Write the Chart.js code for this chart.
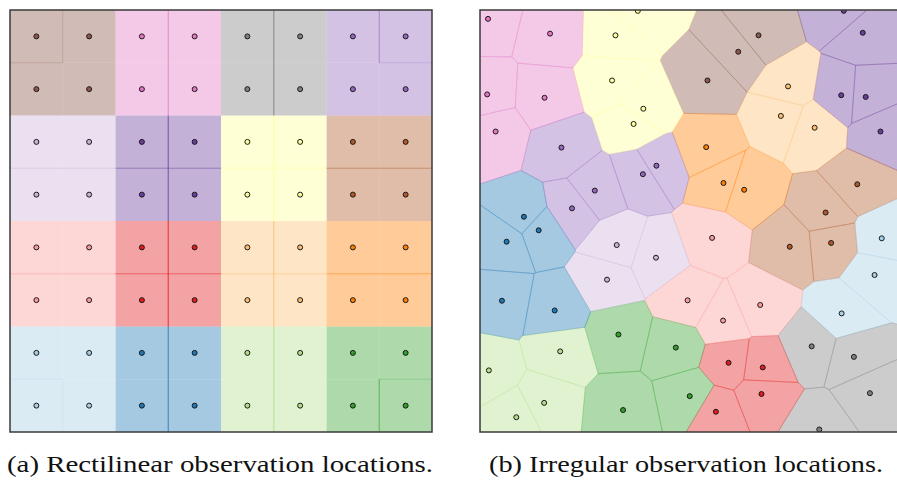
<!DOCTYPE html>
<html>
<head>
<meta charset="utf-8">
<script src="https://cdn.jsdelivr.net/npm/chart.js@4.4.1/dist/chart.umd.min.js"></script>
<style>
html, body { margin: 0; padding: 0; background: #fff; width: 897px; height: 480px; overflow: hidden; }
canvas { position: absolute; top: 5px; }
#left { left: 5px; }
#right { left: 475px; }
.cap { position: absolute; top: 452px; font-family: "Liberation Serif", "Times New Roman", serif; font-size: 24px; line-height: 24px; color: #111; white-space: nowrap; transform-origin: 0 0; }
</style>
</head>
<body>
<canvas id="left" width="432" height="432"></canvas>
<canvas id="right" width="432" height="432"></canvas>
<div class="cap" id="capA">(a) Rectilinear observation locations.</div>
<div class="cap" id="capB">(b) Irregular observation locations.</div>
<script>
// colour of each observation group
const groupColors = {
  brown: "#8c564b", pink: "#e377c2", gray: "#7f7f7f", purple: "#9467bd",
  lavender: "#cab2d6", violet: "#6a3d9a", yellow: "#ffff99", rust: "#b15928",
  salmon: "#fb9a99", red: "#e31a1c", peach: "#fdbf6f", orange: "#ff7f00",
  skyblue: "#a6cee3", blue: "#1f78b4", lime: "#b2df8a", green: "#33a02c"
};

// (a) rectilinear grid: cell centres and the 2x2 blocks (top row first)
const gridPos = [0.0625, 0.1875, 0.3125, 0.4375, 0.5625, 0.6875, 0.8125, 0.9375];
const blockGroups = [
  ["brown", "pink", "gray", "purple"],
  ["lavender", "violet", "yellow", "rust"],
  ["salmon", "red", "peach", "orange"],
  ["skyblue", "blue", "lime", "green"]
];
// internal cell borders that show up in (a)
const gridLines = [0.375, 0.625];

// (b) irregular locations
const irregX = [
  0.019, 0.166, 0.017, 0.153, 0.037,
  0.374, 0.321, 0.313, 0.387, 0.364,
  0.193, 0.418, 0.386, 0.272, 0.218,
  0.104, 0.139, 0.063, 0.052, 0.177,
  0.324, 0.417, 0.301,
  0.328, 0.464, 0.339, 0.497,
  0.190, 0.021, 0.152, 0.086,
  0.550, 0.492, 0.664, 0.576,
  0.589, 0.670, 0.667, 0.559,
  0.786, 0.886, 0.924, 0.804,
  0.952, 0.935, 0.857,
  0.894, 0.819, 0.734, 0.832,
  0.730, 0.713, 0.793,
  0.536, 0.577, 0.626,
  0.660, 0.612, 0.539,
  0.862, 0.907, 0.856, 0.914, 0.949
];
const irregY = [
  0.979, 0.944, 0.800, 0.792, 0.712,
  0.998, 0.940, 0.833, 0.766, 0.730,
  0.674, 0.631, 0.611, 0.572, 0.530,
  0.510, 0.478, 0.451, 0.311, 0.288,
  0.443, 0.413, 0.361,
  0.231, 0.200, 0.052, 0.085,
  0.191, 0.146, 0.069, 0.035,
  0.460, 0.312, 0.301, 0.264,
  0.164, 0.153, 0.090, 0.048,
  0.203, 0.178, 0.092, 0.006,
  0.459, 0.372, 0.281,
  0.587, 0.520, 0.439, 0.448,
  0.819, 0.749, 0.721,
  0.675, 0.590, 0.574,
  0.940, 0.901, 0.833,
  0.998, 0.946, 0.798, 0.794, 0.712
];
const irregGroup = [
  "pink", "pink", "pink", "pink", "pink",
  "yellow", "yellow", "yellow", "yellow", "yellow",
  "purple", "purple", "purple", "purple", "purple",
  "blue", "blue", "blue", "blue", "blue",
  "lavender", "lavender", "lavender",
  "green", "green", "green", "green",
  "lime", "lime", "lime", "lime",
  "salmon", "salmon", "salmon", "salmon",
  "red", "red", "red", "red",
  "gray", "gray", "gray", "gray",
  "skyblue", "skyblue", "skyblue",
  "rust", "rust", "rust", "rust",
  "peach", "peach", "peach",
  "orange", "orange", "orange",
  "brown", "brown", "brown",
  "violet", "violet", "violet", "violet", "violet"
];

function rgba(hex, a) {
  const n = parseInt(hex.slice(1), 16);
  return "rgba(" + (n >> 16) + "," + ((n >> 8) & 255) + "," + (n & 255) + "," + a + ")";
}

// keep the part of poly where a*x + b*y <= c
function clip(poly, a, b, c) {
  const out = [];
  for (let k = 0; k < poly.length; k++) {
    const P = poly[k], Q = poly[(k + 1) % poly.length];
    const dP = a * P[0] + b * P[1] - c, dQ = a * Q[0] + b * Q[1] - c;
    if (dP <= 0) out.push(P);
    if ((dP < 0 && dQ > 0) || (dP > 0 && dQ < 0)) {
      const t = dP / (dP - dQ);
      out.push([P[0] + t * (Q[0] - P[0]), P[1] + t * (Q[1] - P[1])]);
    }
  }
  return out;
}

// voronoi cells inside the unit square
function voronoi(xs, ys) {
  return xs.map((xi, i) => {
    let poly = [[0, 0], [1, 0], [1, 1], [0, 1]];
    xs.forEach((xj, j) => {
      if (j === i) return;
      const a = xj - xi, b = ys[j] - ys[i];
      poly = clip(poly, a, b, (a * (xj + xi) + b * (ys[j] + ys[i])) / 2);
    });
    return poly;
  });
}

const frame = {
  id: "frame",
  afterDraw(chart) {
    const { ctx, chartArea: a } = chart;
    ctx.save();
    ctx.strokeStyle = "#3a3a3a";
    ctx.lineWidth = 1.5;
    ctx.strokeRect(a.left, a.top, a.width, a.height);
    ctx.restore();
  }
};

const edgeAlpha = 0.28;

function makeChart(id, xs, ys, groups, edgeShown) {
  const cells = voronoi(xs, ys);
  const datasets = [{
    type: "scatter",
    data: xs.map((x, i) => ({ x: x, y: ys[i] })),
    pointRadius: 2.5,
    borderWidth: 1,
    borderColor: "#1a1a1a",
    backgroundColor: groups.map(g => groupColors[g])
  }];
  // cell edges (drawn above the fills)
  cells.forEach((poly, i) => {
    const col = groupColors[groups[i]];
    const pts = poly.concat([poly[0]]);
    datasets.push({
      type: "line",
      data: pts.map(p => ({ x: p[0], y: p[1] })),
      fill: false,
      borderColor: rgba(col, edgeAlpha),
      borderWidth: 1,
      pointRadius: 0,
      tension: 0,
      segment: {
        borderColor: c => edgeShown(i, pts[c.p0DataIndex], pts[c.p1DataIndex]) ? rgba(col, edgeAlpha) : "rgba(0,0,0,0)"
      }
    });
  });
  // cell fills
  cells.forEach((poly, i) => {
    const col = groupColors[groups[i]];
    const pts = poly.concat([poly[0]]);
    datasets.push({
      type: "line",
      data: pts.map(p => ({ x: p[0], y: p[1] })),
      fill: "shape",
      backgroundColor: rgba(col, 0.4),
      borderWidth: 0,
      borderColor: "rgba(0,0,0,0)",
      pointRadius: 0,
      tension: 0
    });
  });
  return new Chart(document.getElementById(id), {
    data: { datasets: datasets },
    options: {
      responsive: false,
      animation: false,
      layout: { padding: 2 },
      scales: {
        x: { type: "linear", min: 0, max: 1, display: false },
        y: { type: "linear", min: 0, max: 1, display: false }
      },
      plugins: { legend: { display: false }, tooltip: { enabled: false } }
    },
    plugins: [frame]
  });
}

// build the rectilinear arrays from the grid positions
const gridX = [], gridY = [], gridGroup = [];
for (let r = 0; r < 8; r++) {
  for (let c = 0; c < 8; c++) {
    gridX.push(gridPos[c]);
    gridY.push(gridPos[7 - r]);
    gridGroup.push(blockGroups[r >> 1][c >> 1]);
  }
}
const cornerCells = [0, 7, 56, 63];
const near = (a, b) => Math.abs(a - b) < 1e-6;
const onBox = (p, q) => (near(p[0], q[0]) && (near(p[0], 0) || near(p[0], 1))) ||
                        (near(p[1], q[1]) && (near(p[1], 0) || near(p[1], 1)));

makeChart("left", gridX, gridY, gridGroup, (i, p, q) => {
  if (cornerCells.includes(i)) return !onBox(p, q);
  return gridLines.some(v => (near(p[0], v) && near(q[0], v)) || (near(p[1], v) && near(q[1], v)));
});
makeChart("right", irregX, irregY, irregGroup, (i, p, q) => !onBox(p, q));

// fit the captions to their widths
function fitCaption(id, left, width) {
  const el = document.getElementById(id);
  const w = el.getBoundingClientRect().width;
  el.style.left = left + "px";
  el.style.transform = "scaleX(" + (width / w) + ")";
}
fitCaption("capA", 7, 426);
fitCaption("capB", 489, 394);
</script>
</body>
</html>
